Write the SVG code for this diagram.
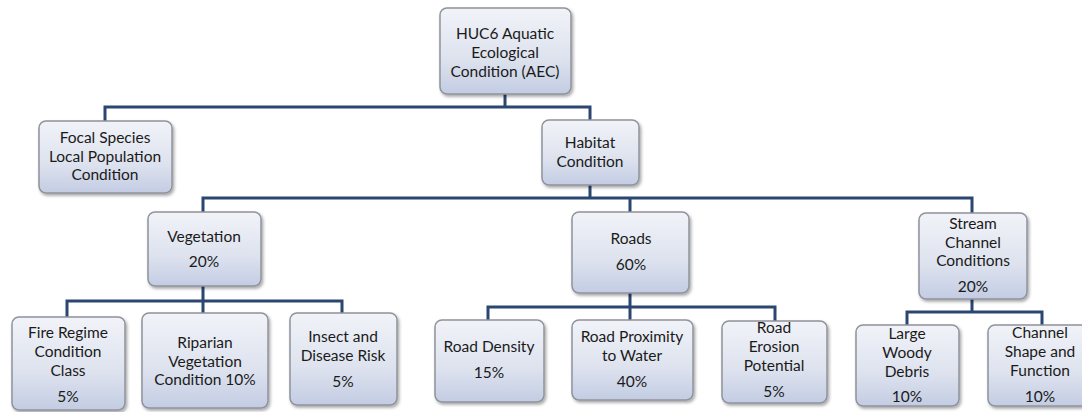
<svg xmlns="http://www.w3.org/2000/svg" width="1082" height="412" viewBox="0 0 1082 412">
<defs>
<linearGradient id="g" x1="0" y1="0" x2="0" y2="1">
<stop offset="0" stop-color="#f1f3f8"/>
<stop offset="0.6" stop-color="#dde2ee"/>
<stop offset="1" stop-color="#c3cce3"/>
</linearGradient>
<filter id="sh" x="-10%" y="-10%" width="125%" height="125%">
<feDropShadow dx="1.5" dy="2" stdDeviation="1.5" flood-color="#000" flood-opacity="0.35"/>
</filter>
</defs>
<style>
.box{fill:url(#g);stroke:#8e939c;stroke-width:1.5;filter:url(#sh)}
.t{font-family:Lato,"Open Sans","Liberation Sans",sans-serif;font-size:15.5px;fill:#1a1a1a;text-anchor:middle}
.c{fill:none;stroke:#2b4671;stroke-width:3}
</style>
<rect width="1082" height="412" fill="#fff"/>
<g id="connectors">
<path class="c" d="M505 94V107M105 121V107H590V120"/>
<path class="c" d="M590 185V198M203 212V198H972V213M630 198V212"/>
<path class="c" d="M203 286V301M67 317V301H342V313M203 301V313"/>
<path class="c" d="M630 293V307M488 320V307H775V321M630 307V320"/>
<path class="c" d="M972 299V312M907 325V312H1042V325"/>
</g>
<g id="root"><rect class="box" x="440" y="8" width="131" height="86" rx="7"/>
<text class="t" x="505" y="39">HUC6 Aquatic</text><text class="t" x="505" y="58">Ecological</text><text class="t" x="505" y="77">Condition (AEC)</text></g>
<g id="focal"><rect class="box" x="39" y="121" width="133" height="72" rx="7"/>
<text class="t" x="105" y="143">Focal Species</text><text class="t" x="105" y="162">Local Population</text><text class="t" x="105" y="180">Condition</text></g>
<g id="habitat"><rect class="box" x="542" y="120" width="97" height="65" rx="7"/>
<text class="t" x="590" y="148">Habitat</text><text class="t" x="590" y="167">Condition</text></g>
<g id="vegetation"><rect class="box" x="148" y="212" width="113" height="74" rx="7"/>
<text class="t" x="204" y="242">Vegetation</text><text class="t" x="204" y="267">20%</text></g>
<g id="roads"><rect class="box" x="572" y="212" width="117" height="81" rx="7"/>
<text class="t" x="631" y="244">Roads</text><text class="t" x="631" y="270">60%</text></g>
<g id="stream"><rect class="box" x="919" y="213" width="108" height="86" rx="7"/>
<text class="t" x="973" y="229">Stream</text><text class="t" x="973" y="248">Channel</text><text class="t" x="973" y="266">Conditions</text><text class="t" x="973" y="292">20%</text></g>
<g id="fire"><rect class="box" x="12" y="317" width="113" height="93" rx="7"/>
<text class="t" x="68" y="338">Fire Regime</text><text class="t" x="68" y="357">Condition</text><text class="t" x="68" y="376">Class</text><text class="t" x="68" y="402">5%</text></g>
<g id="riparian"><rect class="box" x="142" y="313" width="126" height="95" rx="7"/>
<text class="t" x="205" y="348">Riparian</text><text class="t" x="205" y="367">Vegetation</text><text class="t" x="205" y="385">Condition 10%</text></g>
<g id="insect"><rect class="box" x="290" y="313" width="107" height="92" rx="7"/>
<text class="t" x="343" y="342">Insect and</text><text class="t" x="343" y="361">Disease Risk</text><text class="t" x="343" y="387">5%</text></g>
<g id="roaddensity"><rect class="box" x="435" y="320" width="109" height="82" rx="7"/>
<text class="t" x="489" y="352">Road Density</text><text class="t" x="489" y="378">15%</text></g>
<g id="roadprox"><rect class="box" x="572" y="320" width="121" height="80" rx="7"/>
<text class="t" x="632" y="342">Road Proximity</text><text class="t" x="632" y="361">to Water</text><text class="t" x="632" y="387">40%</text></g>
<g id="roaderosion"><rect class="box" x="722" y="321" width="105" height="82" rx="7"/>
<text class="t" x="774" y="333">Road</text><text class="t" x="774" y="352">Erosion</text><text class="t" x="774" y="371">Potential</text><text class="t" x="774" y="397">5%</text></g>
<g id="woody"><rect class="box" x="856" y="325" width="103" height="81" rx="7"/>
<text class="t" x="907" y="339">Large</text><text class="t" x="907" y="358">Woody</text><text class="t" x="907" y="377">Debris</text><text class="t" x="907" y="402">10%</text></g>
<g id="channel"><rect class="box" x="988" y="325" width="100" height="81" rx="7"/>
<text class="t" x="1040" y="338">Channel</text><text class="t" x="1040" y="357">Shape and</text><text class="t" x="1040" y="376">Function</text><text class="t" x="1040" y="402">10%</text></g>
</svg>
